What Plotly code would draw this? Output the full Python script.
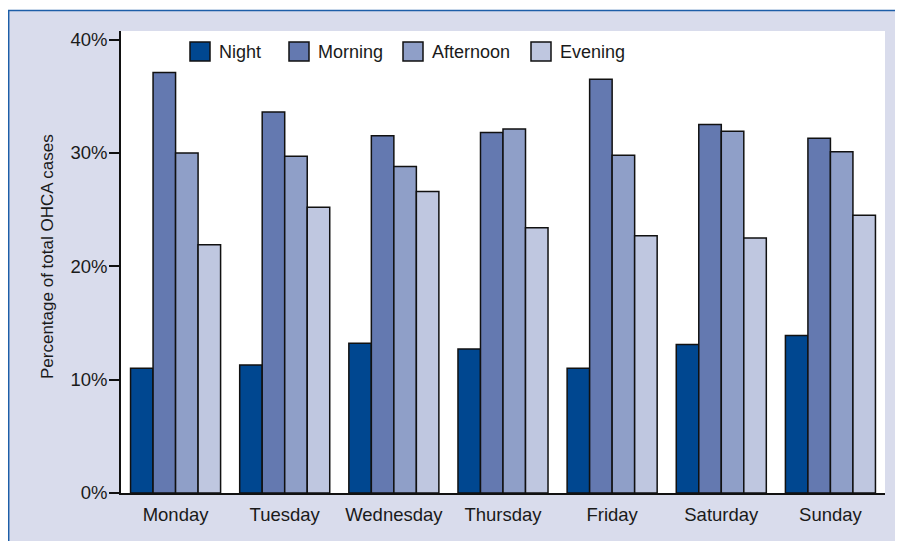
import plotly.graph_objects as go

days = ["Monday", "Tuesday", "Wednesday", "Thursday", "Friday", "Saturday", "Sunday"]
night = [11.0, 11.3, 13.2, 12.7, 11.0, 13.1, 13.9]
morning = [37.1, 33.6, 31.5, 31.8, 36.5, 32.5, 31.3]
afternoon = [30.0, 29.7, 28.8, 32.1, 29.8, 31.9, 30.1]
evening = [21.9, 25.2, 26.6, 23.4, 22.7, 22.5, 24.5]
series_names = ["Night", "Morning", "Afternoon", "Evening"]
tick_vals = [0, 10, 20, 30, 40]
tick_text = ["0%", "10%", "20%", "30%", "40%"]

colors = ["#004790", "#6479b0", "#8f9fc8", "#bfc7e0"]
FONT = "Liberation Sans Narrow, Arial Narrow, Liberation Sans, Arial, sans-serif"

OFF = 8  # page body margin
W, H = 903 - OFF, 541 - OFF
L, R, T, B = 121 - OFF, 18, 31 - OFF, 48
PW, PH = W - L - R, H - T - B

def px(x):  # reference-page pixel -> paper
    return (x - OFF - L) / PW

def py(y):
    return (H - B - (y - OFF)) / PH

fig = go.Figure()
for name, vals, c in zip(series_names, [night, morning, afternoon, evening], colors):
    fig.add_trace(go.Bar(x=days, y=vals, name=name, marker=dict(color=c, line=dict(color="#111111", width=1.5)),
                         showlegend=False))

shapes = [
    dict(type="rect", xref="paper", yref="paper", x0=px(8), x1=px(910), y0=py(550), y1=py(11),
         fillcolor="#d9dcec", line=dict(width=0), layer="below"),
    dict(type="rect", xref="paper", yref="paper", x0=0, x1=1, y0=0, y1=1,
         fillcolor="white", line=dict(width=0), layer="below"),
    dict(type="line", xref="paper", yref="paper", x0=px(8), x1=px(910), y0=py(10.5), y1=py(10.5),
         line=dict(color="#1d5ea8", width=1.5)),
    dict(type="line", xref="paper", yref="paper", x0=px(8.7), x1=px(8.7), y0=py(10.5), y1=py(550),
         line=dict(color="#1d5ea8", width=1.5)),
]

annotations = []
leg_sq_x = [190, 289, 403, 531]
for name, c, sx in zip(series_names, colors, leg_sq_x):
    shapes.append(dict(type="rect", xref="paper", yref="paper", x0=px(sx), x1=px(sx + 20),
                       y0=py(61), y1=py(42), fillcolor=c, line=dict(color="#111111", width=1.5)))
    annotations.append(dict(xref="paper", yref="paper", x=px(sx + 27), y=py(51.5), text=name,
                            showarrow=False, xanchor="left", yanchor="middle",
                            font=dict(family=FONT, size=18, color="#1a1a1a")))

annotations.append(dict(xref="paper", yref="paper", x=px(47), y=py(257), text="Percentage of total OHCA cases",
                        textangle=-90, showarrow=False, xanchor="center", yanchor="middle",
                        font=dict(family=FONT, size=17, color="#1a1a1a")))

fig.update_layout(
    width=W, height=H, autosize=False,
    margin=dict(l=L, r=R, t=T, b=B),
    paper_bgcolor="white", plot_bgcolor="rgba(0,0,0,0)",
    barmode="group", bargap=0.175, bargroupgap=0,
    shapes=shapes, annotations=annotations,
    xaxis=dict(range=[-0.5, 6.5], showline=True, linecolor="#111111", linewidth=1.5, ticks="",
               showgrid=False, zeroline=False, tickfont=dict(family=FONT, size=18.5, color="#1a1a1a"),
               ticklabelstandoff=4),
    yaxis=dict(range=[0, 40.75], tickvals=tick_vals, ticktext=tick_text, showline=True, linecolor="#111111",
               linewidth=1.5, ticks="outside", ticklen=10, tickwidth=1.5, tickcolor="#111111",
               showgrid=False, zeroline=False, tickfont=dict(family=FONT, size=18.5, color="#1a1a1a"),
               ticklabelstandoff=-2),
)

fig.write_html("out.html")
